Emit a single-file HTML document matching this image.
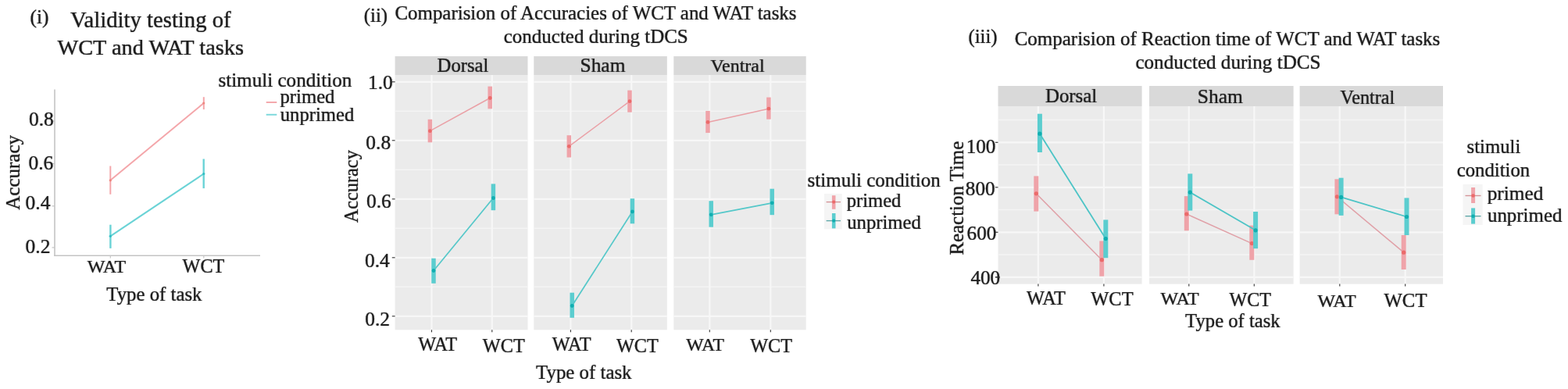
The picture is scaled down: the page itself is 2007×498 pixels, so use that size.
<!DOCTYPE html>
<html><head><meta charset="utf-8"><title>Validity testing and tDCS comparisons</title>
<style>
html,body{margin:0;padding:0;background:#fff;}
body{width:2007px;height:498px;overflow:hidden;}
svg{display:block;}
svg text{font-family:'Liberation Serif', 'DejaVu Serif', serif;stroke:#2a2a2a;stroke-width:0.2px;text-shadow:0 0 1.2px rgba(20,20,20,0.45);}
</style></head><body>
<svg width="2007" height="498" viewBox="0 0 2007 498">
<rect width="2007" height="498" fill="#ffffff"/>
<text x="38.59" y="30.10" font-size="25.30" fill="#1e1e1e">(i)</text>
<text x="90.01" y="35.30" font-size="28.70" fill="#1e1e1e">Validity testing of</text>
<text x="73.40" y="69.90" font-size="28.35" fill="#1e1e1e">WCT and WAT tasks</text>
<line x1="70.00" y1="114.50" x2="70.00" y2="328.00" stroke="#C4C4C4" stroke-width="1.6" opacity="1"/>
<line x1="69.20" y1="327.30" x2="333.00" y2="327.30" stroke="#C4C4C4" stroke-width="1.6" opacity="1"/>
<line x1="66.50" y1="155.10" x2="70.00" y2="155.10" stroke="#C4C4C4" stroke-width="1.2" opacity="1"/>
<line x1="66.50" y1="209.50" x2="70.00" y2="209.50" stroke="#C4C4C4" stroke-width="1.2" opacity="1"/>
<line x1="66.50" y1="263.80" x2="70.00" y2="263.80" stroke="#C4C4C4" stroke-width="1.2" opacity="1"/>
<line x1="66.50" y1="316.90" x2="70.00" y2="316.90" stroke="#C4C4C4" stroke-width="1.2" opacity="1"/>
<line x1="141.30" y1="327.30" x2="141.30" y2="330.50" stroke="#C4C4C4" stroke-width="1.2" opacity="1"/>
<line x1="260.80" y1="327.30" x2="260.80" y2="330.50" stroke="#C4C4C4" stroke-width="1.2" opacity="1"/>
<text x="36.88" y="161.00" font-size="25.50" fill="#1e1e1e">0.8</text>
<text x="36.48" y="217.00" font-size="25.50" fill="#1e1e1e">0.6</text>
<text x="32.58" y="268.20" font-size="25.50" fill="#1e1e1e">0.4</text>
<text x="32.58" y="324.10" font-size="25.50" fill="#1e1e1e">0.2</text>
<text transform="translate(25.00,268.75) rotate(-90)" font-size="25.00" fill="#1e1e1e">Accuracy</text>
<text x="111.80" y="349.00" font-size="24.02" fill="#1e1e1e">WAT</text>
<text x="233.60" y="349.20" font-size="24.18" fill="#1e1e1e">WCT</text>
<text x="136.30" y="384.50" font-size="24.79" fill="#1e1e1e">Type of task</text>
<text x="279.39" y="110.70" font-size="25.13" fill="#1e1e1e">stimuli condition</text>
<text x="358.51" y="132.40" font-size="24.71" fill="#1e1e1e">primed</text>
<text x="358.75" y="154.90" font-size="24.67" fill="#1e1e1e">unprimed</text>
<line x1="340.70" y1="131.00" x2="354.30" y2="131.00" stroke="#F4A9AD" stroke-width="2" opacity="1"/>
<line x1="340.70" y1="146.80" x2="354.30" y2="146.80" stroke="#7FD9DC" stroke-width="2" opacity="1"/>
<line x1="141.30" y1="230.80" x2="260.80" y2="132.00" stroke="#F4A6AA" stroke-width="2" opacity="1"/>
<line x1="141.30" y1="302.30" x2="260.80" y2="222.50" stroke="#6AD3D6" stroke-width="2.1" opacity="1"/>
<line x1="141.30" y1="212.50" x2="141.30" y2="248.80" stroke="#F4A6AA" stroke-width="2" opacity="1"/>
<line x1="260.80" y1="124.20" x2="260.80" y2="140.10" stroke="#F4A6AA" stroke-width="2" opacity="1"/>
<line x1="141.40" y1="287.70" x2="141.40" y2="317.90" stroke="#6AD3D6" stroke-width="2.4" opacity="1"/>
<line x1="260.70" y1="203.50" x2="260.70" y2="241.10" stroke="#6AD3D6" stroke-width="2.4" opacity="1"/>
<circle cx="141.30" cy="230.80" r="1.6" fill="#EE8880"/>
<circle cx="260.80" cy="132.00" r="1.6" fill="#EE8880"/>
<circle cx="141.30" cy="302.30" r="1.6" fill="#2FC0C4"/>
<circle cx="260.80" cy="222.50" r="1.6" fill="#2FC0C4"/>
<text x="465.81" y="28.40" font-size="24.80" fill="#1e1e1e">(ii)</text>
<text x="505.40" y="24.80" font-size="24.94" fill="#1e1e1e">Comparision of Accuracies of WCT and WAT tasks</text>
<text x="644.70" y="54.90" font-size="25.01" fill="#1e1e1e">conducted during tDCS</text>
<rect x="505.60" y="72.00" width="169.90" height="24.00" fill="#D9D9D9"/>
<rect x="505.60" y="96.00" width="169.90" height="326.30" fill="#EBEBEB"/>
<line x1="505.60" y1="142.30" x2="675.50" y2="142.30" stroke="#F4F4F4" stroke-width="1.6" opacity="1"/>
<line x1="505.60" y1="217.30" x2="675.50" y2="217.30" stroke="#F4F4F4" stroke-width="1.6" opacity="1"/>
<line x1="505.60" y1="292.30" x2="675.50" y2="292.30" stroke="#F4F4F4" stroke-width="1.6" opacity="1"/>
<line x1="505.60" y1="367.30" x2="675.50" y2="367.30" stroke="#F4F4F4" stroke-width="1.6" opacity="1"/>
<line x1="505.60" y1="104.80" x2="675.50" y2="104.80" stroke="#F7F7F7" stroke-width="2.2" opacity="1"/>
<line x1="505.60" y1="179.80" x2="675.50" y2="179.80" stroke="#F7F7F7" stroke-width="2.2" opacity="1"/>
<line x1="505.60" y1="254.80" x2="675.50" y2="254.80" stroke="#F7F7F7" stroke-width="2.2" opacity="1"/>
<line x1="505.60" y1="329.80" x2="675.50" y2="329.80" stroke="#F7F7F7" stroke-width="2.2" opacity="1"/>
<line x1="505.60" y1="404.80" x2="675.50" y2="404.80" stroke="#F7F7F7" stroke-width="2.2" opacity="1"/>
<line x1="552.50" y1="96.00" x2="552.50" y2="422.30" stroke="#F7F7F7" stroke-width="2.2" opacity="1"/>
<line x1="552.50" y1="422.30" x2="552.50" y2="425.30" stroke="#333333" stroke-width="1.1" opacity="1"/>
<line x1="629.80" y1="96.00" x2="629.80" y2="422.30" stroke="#F7F7F7" stroke-width="2.2" opacity="1"/>
<line x1="629.80" y1="422.30" x2="629.80" y2="425.30" stroke="#333333" stroke-width="1.1" opacity="1"/>
<rect x="683.30" y="72.00" width="170.50" height="24.00" fill="#D9D9D9"/>
<rect x="683.30" y="96.00" width="170.50" height="326.30" fill="#EBEBEB"/>
<line x1="683.30" y1="142.30" x2="853.80" y2="142.30" stroke="#F4F4F4" stroke-width="1.6" opacity="1"/>
<line x1="683.30" y1="217.30" x2="853.80" y2="217.30" stroke="#F4F4F4" stroke-width="1.6" opacity="1"/>
<line x1="683.30" y1="292.30" x2="853.80" y2="292.30" stroke="#F4F4F4" stroke-width="1.6" opacity="1"/>
<line x1="683.30" y1="367.30" x2="853.80" y2="367.30" stroke="#F4F4F4" stroke-width="1.6" opacity="1"/>
<line x1="683.30" y1="104.80" x2="853.80" y2="104.80" stroke="#F7F7F7" stroke-width="2.2" opacity="1"/>
<line x1="683.30" y1="179.80" x2="853.80" y2="179.80" stroke="#F7F7F7" stroke-width="2.2" opacity="1"/>
<line x1="683.30" y1="254.80" x2="853.80" y2="254.80" stroke="#F7F7F7" stroke-width="2.2" opacity="1"/>
<line x1="683.30" y1="329.80" x2="853.80" y2="329.80" stroke="#F7F7F7" stroke-width="2.2" opacity="1"/>
<line x1="683.30" y1="404.80" x2="853.80" y2="404.80" stroke="#F7F7F7" stroke-width="2.2" opacity="1"/>
<line x1="730.40" y1="96.00" x2="730.40" y2="422.30" stroke="#F7F7F7" stroke-width="2.2" opacity="1"/>
<line x1="730.40" y1="422.30" x2="730.40" y2="425.30" stroke="#333333" stroke-width="1.1" opacity="1"/>
<line x1="808.20" y1="96.00" x2="808.20" y2="422.30" stroke="#F7F7F7" stroke-width="2.2" opacity="1"/>
<line x1="808.20" y1="422.30" x2="808.20" y2="425.30" stroke="#333333" stroke-width="1.1" opacity="1"/>
<rect x="862.30" y="72.00" width="169.40" height="24.00" fill="#D9D9D9"/>
<rect x="862.30" y="96.00" width="169.40" height="326.30" fill="#EBEBEB"/>
<line x1="862.30" y1="142.30" x2="1031.70" y2="142.30" stroke="#F4F4F4" stroke-width="1.6" opacity="1"/>
<line x1="862.30" y1="217.30" x2="1031.70" y2="217.30" stroke="#F4F4F4" stroke-width="1.6" opacity="1"/>
<line x1="862.30" y1="292.30" x2="1031.70" y2="292.30" stroke="#F4F4F4" stroke-width="1.6" opacity="1"/>
<line x1="862.30" y1="367.30" x2="1031.70" y2="367.30" stroke="#F4F4F4" stroke-width="1.6" opacity="1"/>
<line x1="862.30" y1="104.80" x2="1031.70" y2="104.80" stroke="#F7F7F7" stroke-width="2.2" opacity="1"/>
<line x1="862.30" y1="179.80" x2="1031.70" y2="179.80" stroke="#F7F7F7" stroke-width="2.2" opacity="1"/>
<line x1="862.30" y1="254.80" x2="1031.70" y2="254.80" stroke="#F7F7F7" stroke-width="2.2" opacity="1"/>
<line x1="862.30" y1="329.80" x2="1031.70" y2="329.80" stroke="#F7F7F7" stroke-width="2.2" opacity="1"/>
<line x1="862.30" y1="404.80" x2="1031.70" y2="404.80" stroke="#F7F7F7" stroke-width="2.2" opacity="1"/>
<line x1="908.30" y1="96.00" x2="908.30" y2="422.30" stroke="#F7F7F7" stroke-width="2.2" opacity="1"/>
<line x1="908.30" y1="422.30" x2="908.30" y2="425.30" stroke="#333333" stroke-width="1.1" opacity="1"/>
<line x1="986.30" y1="96.00" x2="986.30" y2="422.30" stroke="#F7F7F7" stroke-width="2.2" opacity="1"/>
<line x1="986.30" y1="422.30" x2="986.30" y2="425.30" stroke="#333333" stroke-width="1.1" opacity="1"/>
<text x="559.56" y="91.50" font-size="24.69" fill="#1e1e1e">Dorsal</text>
<text x="742.52" y="91.50" font-size="25.43" fill="#1e1e1e">Sham</text>
<text x="909.46" y="91.50" font-size="23.95" fill="#1e1e1e">Ventral</text>
<line x1="501.80" y1="104.80" x2="505.60" y2="104.80" stroke="#333333" stroke-width="1.1" opacity="1"/>
<line x1="501.80" y1="179.80" x2="505.60" y2="179.80" stroke="#333333" stroke-width="1.1" opacity="1"/>
<line x1="501.80" y1="254.80" x2="505.60" y2="254.80" stroke="#333333" stroke-width="1.1" opacity="1"/>
<line x1="501.80" y1="329.80" x2="505.60" y2="329.80" stroke="#333333" stroke-width="1.1" opacity="1"/>
<line x1="501.80" y1="404.80" x2="505.60" y2="404.80" stroke="#333333" stroke-width="1.1" opacity="1"/>
<text x="470.90" y="114.00" font-size="25.50" fill="#1e1e1e">1.0</text>
<text x="468.28" y="190.50" font-size="25.50" fill="#1e1e1e">0.8</text>
<text x="468.98" y="266.00" font-size="25.50" fill="#1e1e1e">0.6</text>
<text x="466.88" y="342.30" font-size="25.50" fill="#1e1e1e">0.4</text>
<text x="467.18" y="416.60" font-size="25.50" fill="#1e1e1e">0.2</text>
<text transform="translate(458.33,285.24) rotate(-90)" font-size="24.29" fill="#1e1e1e">Accuracy</text>
<text x="535.20" y="449.30" font-size="24.31" fill="#1e1e1e">WAT</text>
<text x="617.80" y="450.60" font-size="24.27" fill="#1e1e1e">WCT</text>
<text x="706.80" y="449.30" font-size="24.26" fill="#1e1e1e">WAT</text>
<text x="788.90" y="450.60" font-size="24.23" fill="#1e1e1e">WCT</text>
<text x="878.30" y="449.30" font-size="23.68" fill="#1e1e1e">WAT</text>
<text x="960.20" y="450.60" font-size="24.23" fill="#1e1e1e">WCT</text>
<text x="686.00" y="484.60" font-size="24.87" fill="#1e1e1e">Type of task</text>
<text x="1033.60" y="239.00" font-size="24.99" fill="#1e1e1e">stimuli condition</text>
<rect x="1055.00" y="248.00" width="22.80" height="45.40" fill="#F5F5F5"/>
<line x1="1067.20" y1="250.20" x2="1067.20" y2="267.80" stroke="#F0A4AA" stroke-width="4.6" opacity="1"/>
<line x1="1057.60" y1="258.60" x2="1076.00" y2="258.60" stroke="#D49498" stroke-width="1.4" opacity="1"/>
<circle cx="1067.20" cy="258.60" r="2.1" fill="#EB6A6A"/>
<line x1="1067.20" y1="273.00" x2="1067.20" y2="292.40" stroke="#5BCDCF" stroke-width="4.6" opacity="1"/>
<line x1="1057.60" y1="282.60" x2="1076.00" y2="282.60" stroke="#5FA8A9" stroke-width="1.4" opacity="1"/>
<circle cx="1067.20" cy="282.60" r="2.1" fill="#10AEB0"/>
<text x="1083.71" y="265.30" font-size="24.61" fill="#1e1e1e">primed</text>
<text x="1084.25" y="293.30" font-size="24.70" fill="#1e1e1e">unprimed</text>
<line x1="550.40" y1="152.80" x2="550.40" y2="182.30" stroke="#EFA3A9" stroke-width="5.5" opacity="1"/>
<line x1="627.20" y1="110.60" x2="627.20" y2="139.30" stroke="#EFA3A9" stroke-width="5.5" opacity="1"/>
<line x1="550.40" y1="167.70" x2="627.20" y2="125.50" stroke="#EAA0A6" stroke-width="1.5" opacity="1"/>
<circle cx="550.40" cy="167.70" r="2.4" fill="#EB6A6A"/>
<circle cx="627.20" cy="125.50" r="2.4" fill="#EB6A6A"/>
<line x1="728.30" y1="173.20" x2="728.30" y2="201.50" stroke="#EFA3A9" stroke-width="5.5" opacity="1"/>
<line x1="806.00" y1="115.60" x2="806.00" y2="143.70" stroke="#EFA3A9" stroke-width="5.5" opacity="1"/>
<line x1="728.30" y1="187.30" x2="806.00" y2="129.70" stroke="#EAA0A6" stroke-width="1.5" opacity="1"/>
<circle cx="728.30" cy="187.30" r="2.4" fill="#EB6A6A"/>
<circle cx="806.00" cy="129.70" r="2.4" fill="#EB6A6A"/>
<line x1="906.00" y1="142.00" x2="906.00" y2="170.10" stroke="#EFA3A9" stroke-width="5.5" opacity="1"/>
<line x1="983.90" y1="124.60" x2="983.90" y2="152.70" stroke="#EFA3A9" stroke-width="5.5" opacity="1"/>
<line x1="906.00" y1="156.40" x2="983.90" y2="139.20" stroke="#EAA0A6" stroke-width="1.5" opacity="1"/>
<circle cx="906.00" cy="156.40" r="2.4" fill="#EB6A6A"/>
<circle cx="983.90" cy="139.20" r="2.4" fill="#EB6A6A"/>
<line x1="555.00" y1="330.70" x2="555.00" y2="362.80" stroke="#5BCDCF" stroke-width="5.5" opacity="1"/>
<line x1="631.40" y1="235.40" x2="631.40" y2="269.20" stroke="#5BCDCF" stroke-width="5.5" opacity="1"/>
<line x1="555.00" y1="346.50" x2="631.40" y2="253.50" stroke="#55C8C9" stroke-width="1.7" opacity="1"/>
<circle cx="555.00" cy="346.50" r="2.4" fill="#10AEB0"/>
<circle cx="631.40" cy="253.50" r="2.4" fill="#10AEB0"/>
<line x1="732.20" y1="374.70" x2="732.20" y2="406.80" stroke="#5BCDCF" stroke-width="5.5" opacity="1"/>
<line x1="809.40" y1="254.20" x2="809.40" y2="286.30" stroke="#5BCDCF" stroke-width="5.5" opacity="1"/>
<line x1="732.20" y1="391.50" x2="809.40" y2="271.00" stroke="#55C8C9" stroke-width="1.7" opacity="1"/>
<circle cx="732.20" cy="391.50" r="2.4" fill="#10AEB0"/>
<circle cx="809.40" cy="271.00" r="2.4" fill="#10AEB0"/>
<line x1="910.20" y1="257.20" x2="910.20" y2="290.70" stroke="#5BCDCF" stroke-width="5.5" opacity="1"/>
<line x1="988.20" y1="241.70" x2="988.20" y2="275.20" stroke="#5BCDCF" stroke-width="5.5" opacity="1"/>
<line x1="910.20" y1="274.80" x2="988.20" y2="259.80" stroke="#55C8C9" stroke-width="1.7" opacity="1"/>
<circle cx="910.20" cy="274.80" r="2.4" fill="#10AEB0"/>
<circle cx="988.20" cy="259.80" r="2.4" fill="#10AEB0"/>
<text x="1239.41" y="54.80" font-size="24.80" fill="#1e1e1e">(iii)</text>
<text x="1298.70" y="58.00" font-size="24.98" fill="#1e1e1e">Comparision of Reaction time of WCT and WAT tasks</text>
<text x="1453.40" y="87.80" font-size="25.11" fill="#1e1e1e">conducted during tDCS</text>
<rect x="1277.50" y="110.00" width="184.10" height="26.00" fill="#D9D9D9"/>
<rect x="1277.50" y="136.00" width="184.10" height="227.60" fill="#EBEBEB"/>
<line x1="1277.50" y1="153.55" x2="1461.60" y2="153.55" stroke="#F4F4F4" stroke-width="1.6" opacity="1"/>
<line x1="1277.50" y1="211.05" x2="1461.60" y2="211.05" stroke="#F4F4F4" stroke-width="1.6" opacity="1"/>
<line x1="1277.50" y1="268.55" x2="1461.60" y2="268.55" stroke="#F4F4F4" stroke-width="1.6" opacity="1"/>
<line x1="1277.50" y1="326.05" x2="1461.60" y2="326.05" stroke="#F4F4F4" stroke-width="1.6" opacity="1"/>
<line x1="1277.50" y1="182.30" x2="1461.60" y2="182.30" stroke="#F7F7F7" stroke-width="2.2" opacity="1"/>
<line x1="1277.50" y1="239.80" x2="1461.60" y2="239.80" stroke="#F7F7F7" stroke-width="2.2" opacity="1"/>
<line x1="1277.50" y1="297.30" x2="1461.60" y2="297.30" stroke="#F7F7F7" stroke-width="2.2" opacity="1"/>
<line x1="1277.50" y1="354.80" x2="1461.60" y2="354.80" stroke="#F7F7F7" stroke-width="2.2" opacity="1"/>
<line x1="1328.90" y1="136.00" x2="1328.90" y2="363.60" stroke="#F7F7F7" stroke-width="2.2" opacity="1"/>
<line x1="1328.90" y1="363.60" x2="1328.90" y2="366.60" stroke="#333333" stroke-width="1.1" opacity="1"/>
<line x1="1412.90" y1="136.00" x2="1412.90" y2="363.60" stroke="#F7F7F7" stroke-width="2.2" opacity="1"/>
<line x1="1412.90" y1="363.60" x2="1412.90" y2="366.60" stroke="#333333" stroke-width="1.1" opacity="1"/>
<rect x="1471.00" y="110.00" width="184.60" height="26.00" fill="#D9D9D9"/>
<rect x="1471.00" y="136.00" width="184.60" height="227.60" fill="#EBEBEB"/>
<line x1="1471.00" y1="153.55" x2="1655.60" y2="153.55" stroke="#F4F4F4" stroke-width="1.6" opacity="1"/>
<line x1="1471.00" y1="211.05" x2="1655.60" y2="211.05" stroke="#F4F4F4" stroke-width="1.6" opacity="1"/>
<line x1="1471.00" y1="268.55" x2="1655.60" y2="268.55" stroke="#F4F4F4" stroke-width="1.6" opacity="1"/>
<line x1="1471.00" y1="326.05" x2="1655.60" y2="326.05" stroke="#F4F4F4" stroke-width="1.6" opacity="1"/>
<line x1="1471.00" y1="182.30" x2="1655.60" y2="182.30" stroke="#F7F7F7" stroke-width="2.2" opacity="1"/>
<line x1="1471.00" y1="239.80" x2="1655.60" y2="239.80" stroke="#F7F7F7" stroke-width="2.2" opacity="1"/>
<line x1="1471.00" y1="297.30" x2="1655.60" y2="297.30" stroke="#F7F7F7" stroke-width="2.2" opacity="1"/>
<line x1="1471.00" y1="354.80" x2="1655.60" y2="354.80" stroke="#F7F7F7" stroke-width="2.2" opacity="1"/>
<line x1="1521.80" y1="136.00" x2="1521.80" y2="363.60" stroke="#F7F7F7" stroke-width="2.2" opacity="1"/>
<line x1="1521.80" y1="363.60" x2="1521.80" y2="366.60" stroke="#333333" stroke-width="1.1" opacity="1"/>
<line x1="1605.30" y1="136.00" x2="1605.30" y2="363.60" stroke="#F7F7F7" stroke-width="2.2" opacity="1"/>
<line x1="1605.30" y1="363.60" x2="1605.30" y2="366.60" stroke="#333333" stroke-width="1.1" opacity="1"/>
<rect x="1663.60" y="110.00" width="183.40" height="26.00" fill="#D9D9D9"/>
<rect x="1663.60" y="136.00" width="183.40" height="227.60" fill="#EBEBEB"/>
<line x1="1663.60" y1="153.55" x2="1847.00" y2="153.55" stroke="#F4F4F4" stroke-width="1.6" opacity="1"/>
<line x1="1663.60" y1="211.05" x2="1847.00" y2="211.05" stroke="#F4F4F4" stroke-width="1.6" opacity="1"/>
<line x1="1663.60" y1="268.55" x2="1847.00" y2="268.55" stroke="#F4F4F4" stroke-width="1.6" opacity="1"/>
<line x1="1663.60" y1="326.05" x2="1847.00" y2="326.05" stroke="#F4F4F4" stroke-width="1.6" opacity="1"/>
<line x1="1663.60" y1="182.30" x2="1847.00" y2="182.30" stroke="#F7F7F7" stroke-width="2.2" opacity="1"/>
<line x1="1663.60" y1="239.80" x2="1847.00" y2="239.80" stroke="#F7F7F7" stroke-width="2.2" opacity="1"/>
<line x1="1663.60" y1="297.30" x2="1847.00" y2="297.30" stroke="#F7F7F7" stroke-width="2.2" opacity="1"/>
<line x1="1663.60" y1="354.80" x2="1847.00" y2="354.80" stroke="#F7F7F7" stroke-width="2.2" opacity="1"/>
<line x1="1714.80" y1="136.00" x2="1714.80" y2="363.60" stroke="#F7F7F7" stroke-width="2.2" opacity="1"/>
<line x1="1714.80" y1="363.60" x2="1714.80" y2="366.60" stroke="#333333" stroke-width="1.1" opacity="1"/>
<line x1="1798.70" y1="136.00" x2="1798.70" y2="363.60" stroke="#F7F7F7" stroke-width="2.2" opacity="1"/>
<line x1="1798.70" y1="363.60" x2="1798.70" y2="366.60" stroke="#333333" stroke-width="1.1" opacity="1"/>
<text x="1337.95" y="131.10" font-size="24.89" fill="#1e1e1e">Dorsal</text>
<text x="1532.81" y="131.50" font-size="25.53" fill="#1e1e1e">Sham</text>
<text x="1715.56" y="132.90" font-size="24.16" fill="#1e1e1e">Ventral</text>
<line x1="1273.90" y1="182.30" x2="1277.50" y2="182.30" stroke="#333333" stroke-width="1.1" opacity="1"/>
<line x1="1273.90" y1="239.80" x2="1277.50" y2="239.80" stroke="#333333" stroke-width="1.1" opacity="1"/>
<line x1="1273.90" y1="297.30" x2="1277.50" y2="297.30" stroke="#333333" stroke-width="1.1" opacity="1"/>
<line x1="1273.90" y1="354.80" x2="1277.50" y2="354.80" stroke="#333333" stroke-width="1.1" opacity="1"/>
<text x="1236.63" y="195.60" font-size="25.20" fill="#1e1e1e">100</text>
<text x="1235.79" y="249.50" font-size="25.20" fill="#1e1e1e">800</text>
<text x="1237.59" y="306.80" font-size="25.20" fill="#1e1e1e">600</text>
<text x="1242.40" y="363.90" font-size="25.20" fill="#1e1e1e">400</text>
<line x1="1273.90" y1="354.80" x2="1280.00" y2="354.80" stroke="#333333" stroke-width="1.1" opacity="1"/>
<text transform="translate(1232.67,326.55) rotate(-90)" font-size="24.88" fill="#1e1e1e">Reaction Time</text>
<text x="1314.00" y="389.90" font-size="24.31" fill="#1e1e1e">WAT</text>
<text x="1396.30" y="391.30" font-size="24.45" fill="#1e1e1e">WCT</text>
<text x="1485.50" y="390.00" font-size="23.97" fill="#1e1e1e">WAT</text>
<text x="1573.40" y="391.80" font-size="24.14" fill="#1e1e1e">WCT</text>
<text x="1686.40" y="392.70" font-size="23.97" fill="#1e1e1e">WAT</text>
<text x="1771.50" y="392.70" font-size="24.77" fill="#1e1e1e">WCT</text>
<text x="1517.11" y="418.60" font-size="24.68" fill="#1e1e1e">Type of task</text>
<text x="1877.61" y="196.20" font-size="24.71" fill="#1e1e1e">stimuli</text>
<text x="1864.71" y="225.70" font-size="24.78" fill="#1e1e1e">condition</text>
<rect x="1872.50" y="236.00" width="25.20" height="52.00" fill="#F5F5F5"/>
<line x1="1885.60" y1="240.00" x2="1885.60" y2="260.00" stroke="#F0A4AA" stroke-width="5" opacity="1"/>
<line x1="1875.50" y1="250.50" x2="1895.50" y2="250.50" stroke="#D49498" stroke-width="1.4" opacity="1"/>
<circle cx="1885.60" cy="250.50" r="2.3" fill="#EB6A6A"/>
<line x1="1885.60" y1="266.40" x2="1885.60" y2="286.60" stroke="#5BCDCF" stroke-width="5" opacity="1"/>
<line x1="1875.50" y1="276.70" x2="1895.50" y2="276.70" stroke="#5FA8A9" stroke-width="1.4" opacity="1"/>
<circle cx="1885.60" cy="276.70" r="2.3" fill="#10AEB0"/>
<text x="1903.69" y="256.40" font-size="25.29" fill="#1e1e1e">primed</text>
<text x="1903.95" y="283.60" font-size="24.93" fill="#1e1e1e">unprimed</text>
<line x1="1326.30" y1="225.40" x2="1326.30" y2="270.60" stroke="#EFA3A9" stroke-width="6.0" opacity="1"/>
<line x1="1410.30" y1="308.50" x2="1410.30" y2="353.70" stroke="#EFA3A9" stroke-width="6.0" opacity="1"/>
<line x1="1326.30" y1="247.80" x2="1410.30" y2="332.70" stroke="#E0A0A7" stroke-width="1.5" opacity="1"/>
<circle cx="1326.30" cy="247.80" r="2.6" fill="#EB6A6A"/>
<circle cx="1410.30" cy="332.70" r="2.6" fill="#EB6A6A"/>
<line x1="1518.80" y1="251.10" x2="1518.80" y2="295.30" stroke="#EFA3A9" stroke-width="6.0" opacity="1"/>
<line x1="1602.30" y1="288.60" x2="1602.30" y2="332.80" stroke="#EFA3A9" stroke-width="6.0" opacity="1"/>
<line x1="1518.80" y1="274.00" x2="1602.30" y2="311.60" stroke="#E0A0A7" stroke-width="1.5" opacity="1"/>
<circle cx="1518.80" cy="274.00" r="2.6" fill="#EB6A6A"/>
<circle cx="1602.30" cy="311.60" r="2.6" fill="#EB6A6A"/>
<line x1="1711.40" y1="229.30" x2="1711.40" y2="274.30" stroke="#EFA3A9" stroke-width="6.0" opacity="1"/>
<line x1="1796.70" y1="301.00" x2="1796.70" y2="345.00" stroke="#EFA3A9" stroke-width="6.0" opacity="1"/>
<line x1="1711.40" y1="251.80" x2="1796.70" y2="323.20" stroke="#E0A0A7" stroke-width="1.5" opacity="1"/>
<circle cx="1711.40" cy="251.80" r="2.6" fill="#EB6A6A"/>
<circle cx="1796.70" cy="323.20" r="2.6" fill="#EB6A6A"/>
<line x1="1330.90" y1="145.70" x2="1330.90" y2="195.00" stroke="#5BCDCF" stroke-width="6.0" opacity="1"/>
<line x1="1415.30" y1="281.40" x2="1415.30" y2="330.20" stroke="#5BCDCF" stroke-width="6.0" opacity="1"/>
<line x1="1330.90" y1="171.20" x2="1415.30" y2="305.60" stroke="#4CC4C6" stroke-width="1.8" opacity="1"/>
<circle cx="1330.90" cy="171.20" r="2.6" fill="#10AEB0"/>
<circle cx="1415.30" cy="305.60" r="2.6" fill="#10AEB0"/>
<line x1="1523.30" y1="222.40" x2="1523.30" y2="269.60" stroke="#5BCDCF" stroke-width="6.0" opacity="1"/>
<line x1="1607.10" y1="271.00" x2="1607.10" y2="318.20" stroke="#5BCDCF" stroke-width="6.0" opacity="1"/>
<line x1="1523.30" y1="246.20" x2="1607.10" y2="294.80" stroke="#4CC4C6" stroke-width="1.8" opacity="1"/>
<circle cx="1523.30" cy="246.20" r="2.6" fill="#10AEB0"/>
<circle cx="1607.10" cy="294.80" r="2.6" fill="#10AEB0"/>
<line x1="1716.60" y1="227.70" x2="1716.60" y2="275.90" stroke="#5BCDCF" stroke-width="6.0" opacity="1"/>
<line x1="1800.50" y1="253.40" x2="1800.50" y2="301.00" stroke="#5BCDCF" stroke-width="6.0" opacity="1"/>
<line x1="1716.60" y1="252.40" x2="1800.50" y2="277.50" stroke="#4CC4C6" stroke-width="1.8" opacity="1"/>
<circle cx="1716.60" cy="252.40" r="2.6" fill="#10AEB0"/>
<circle cx="1800.50" cy="277.50" r="2.6" fill="#10AEB0"/>
</svg>
</body></html>
